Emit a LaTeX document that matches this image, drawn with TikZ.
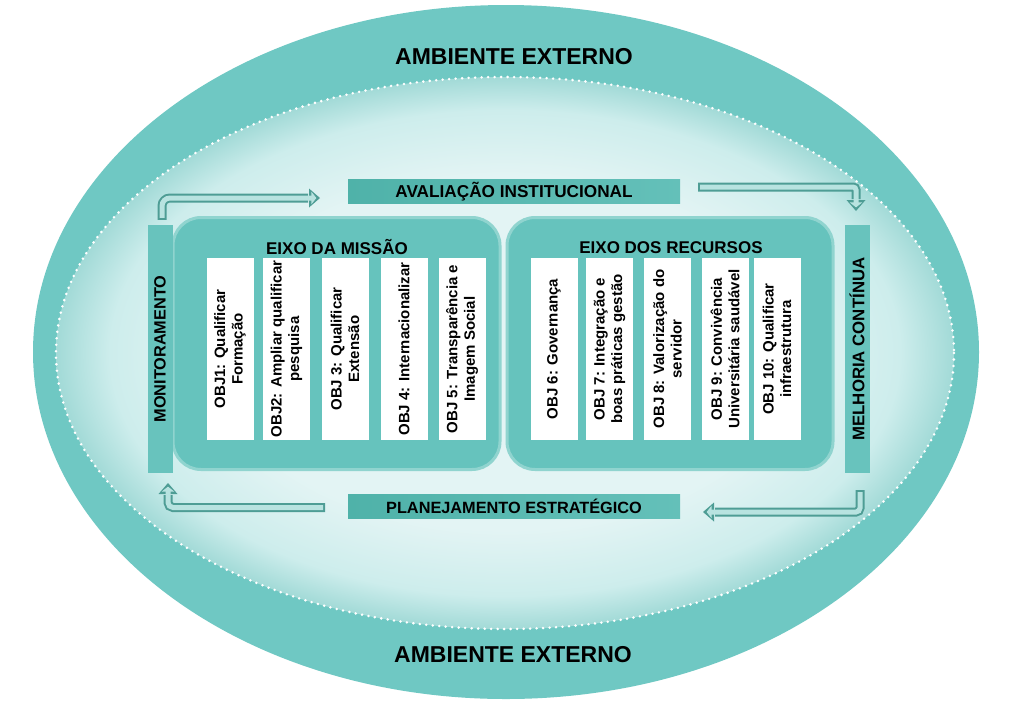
\documentclass[tikz,border=0pt]{standalone}
\usepackage{fontspec}
\setmainfont{Liberation Sans}
\usetikzlibrary{calc,shapes.geometric}
\definecolor{ring}{HTML}{6FC8C3}
\definecolor{inlight}{HTML}{E3F4F4}
\definecolor{inmid}{HTML}{CDEDEC}
\definecolor{inedge}{HTML}{A2DAD7}
\definecolor{boxfill}{HTML}{66C3BD}
\definecolor{boxedge}{HTML}{90D4CF}
\definecolor{bardark}{HTML}{4FB2A9}
\definecolor{barmid}{HTML}{7FCEC8}
\definecolor{barright}{HTML}{64C0B9}
\definecolor{vbarfill}{HTML}{68C3BD}
\definecolor{ardark}{HTML}{4E9D95}
\definecolor{arlight}{HTML}{B8E3E0}
\pgfdeclareradialshading{innerglow}{\pgfpointorigin}{color(0bp)=(inlight); color(16bp)=(inlight); color(22bp)=(inmid); color(25bp)=(inedge); color(50bp)=(inedge)}
\newcommand\hollowarr[5]{%
  \coordinate (#3i) at ($(#3)!2.4pt!(#4)$);
  \coordinate (#4i) at ($(#4)!3.6pt!(#3)$);
  \draw[ardark,line width=9pt,rounded corners=#5] (#1) -- (#2) -- ($(#3)!-1pt!(#4)$);
  \fill[ardark] ($(#3)!9.5pt!90:(#4)$) -- (#4) -- ($(#3)!9.5pt!-90:(#4)$) -- cycle;
  \draw[arlight,line width=5pt,rounded corners=#5,shorten <=2pt] (#1) -- (#2) -- ($(#3)!3pt!(#4)$);
  \fill[arlight] ($(#3i)!6.2pt!90:(#4)$) -- (#4i) -- ($(#3i)!6.2pt!-90:(#4)$) -- cycle;
}
\tikzset{
  ambtext/.style={font=\fontsize{23}{27}\selectfont\bfseries, text=black},
  bigbox/.style={fill=boxfill, draw=boxedge, line width=3pt, rounded corners=28pt, inner sep=0pt},
  boxtitle/.style={font=\fontsize{17}{20}\selectfont\bfseries, text=black, inner sep=0pt, anchor=base},
  objbox/.style={rotate=90, fill=white, minimum width=182pt, minimum height=47pt, inner sep=0pt, align=center, font=\fontsize{15}{17.5}\selectfont\bfseries, text=black},
  hbar/.style={left color=bardark, middle color=barmid, right color=barright, minimum width=332pt, minimum height=24pt, inner sep=0pt, font=\fontsize{16.3}{19}\selectfont\bfseries, text=black},
  vbar/.style={rotate=90, fill=vbarfill, minimum width=248pt, minimum height=25pt, inner sep=0pt, font=\fontsize{16.3}{19}\selectfont\bfseries, text=black}
}
\begin{document}
\begin{tikzpicture}[x=1pt,y=-1pt]
\useasboundingbox (0,0) rectangle (1009,702);
\fill[white] (0,0) rectangle (1009,702);
\node[ellipse, fill=ring, minimum width=946pt, minimum height=694pt, inner sep=0pt] (outer) at (506,352) {};
\node[ellipse, shade, shading=innerglow, minimum width=898pt, minimum height=552pt, inner sep=0pt] (inner) at (505,353) {};
\draw[white, line width=2.8pt, dash pattern=on 0pt off 6.5pt, line cap=round] (inner.center) ellipse [x radius=449, y radius=276];
\node[ambtext] (ambtop) at (514,57) {AMBIENTE EXTERNO};
\node[ambtext] (ambbot) at (513,655) {AMBIENTE EXTERNO};
% axes boxes
\node[bigbox, minimum width=327pt, minimum height=252pt] (missao) at (336.5,343.5) {};
\node[bigbox, minimum width=326pt, minimum height=252pt] (recursos) at (670,343.5) {};
\node[boxtitle] (missaot) at (337,254) {EIXO DA MISSÃO};
\node[boxtitle] (recursost) at (671,253) {EIXO DOS RECURSOS};
% objectives
\node[objbox] (o1) at (230,349) {OBJ1: Qualificar\\Formação};
\node[objbox] (o2) at (286.5,349) {OBJ2: Ampliar qualificar\\pesquisa};
\node[objbox] (o3) at (345,349) {OBJ 3: Qualificar\\Extensão};
\node[objbox] (o4) at (404,349) {OBJ 4: Internacionalizar};
\node[objbox] (o5) at (462,349) {OBJ 5: Transparência e\\Imagem Social};
\node[objbox] (o6) at (554,349) {OBJ 6: Governança};
\node[objbox] (o7) at (609.5,349) {OBJ 7: Integração e\\boas práticas gestão};
\node[objbox] (o8) at (667.5,349) {OBJ 8: Valorização do\\servidor};
\node[objbox] (o9) at (725,349) {OBJ 9: Convivência\\Universitária saudável};
\node[objbox] (o10) at (777,349) {OBJ 10: Qualificar\\infraestrutura};
% bars
\node[hbar, font=\fontsize{17.2}{19}\selectfont\bfseries] (aval) at (514,191.5) {AVALIAÇÃO INSTITUCIONAL};
\node[hbar] (plan) at (514,506) {PLANEJAMENTO ESTRATÉGICO};
\node[vbar] (mon) at (160,349) {MONITORAMENTO};
\node[vbar, font=\fontsize{16.8}{19}\selectfont\bfseries] (mel) at (857,349) {MELHORIA CONTÍNUA};
% arrows
\coordinate (a1s) at ($(mon.east)+(2,-5)$);
\coordinate (a1c) at (162,198);
\coordinate (a1b) at (309,198);
\coordinate (a1t) at (320,198);
\hollowarr{a1s}{a1c}{a1b}{a1t}{8pt}
\coordinate (a2s) at (698,187);
\coordinate (a2c) at (856,187);
\coordinate (a2b) at (856,200);
\coordinate (a2t) at (856,211);
\hollowarr{a2s}{a2c}{a2b}{a2t}{3pt}
\coordinate (a3s) at (325,507.5);
\coordinate (a3c) at (168,507.5);
\coordinate (a3b) at (168,494);
\coordinate (a3t) at (168,483);
\hollowarr{a3s}{a3c}{a3b}{a3t}{5pt}
\coordinate (a4s) at ($(mel.west)+(3,17)$);
\coordinate (a4c) at (860,512);
\coordinate (a4b) at (714,512);
\coordinate (a4t) at (703,512);
\hollowarr{a4s}{a4c}{a4b}{a4t}{4pt}
\end{tikzpicture}
\end{document}
